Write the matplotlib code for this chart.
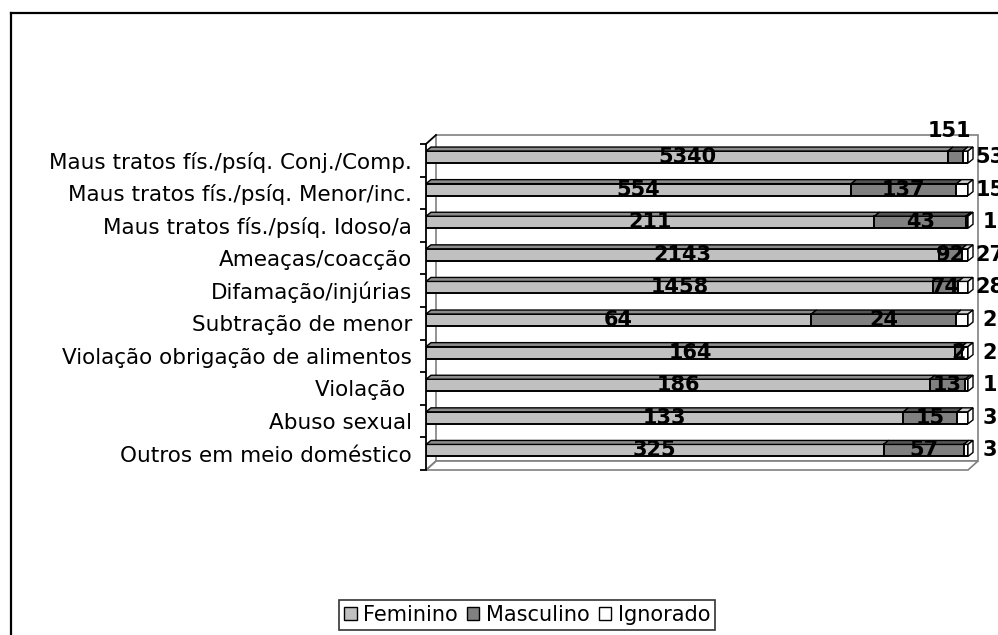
import matplotlib
matplotlib.use("Agg")
from matplotlib import pyplot as plt
from matplotlib.patches import Polygon, Patch
from matplotlib.lines import Line2D
import numpy as np

plt.rcParams['font.family'] = ['DejaVu Sans']

# dados
categorias = ["Maus tratos fís./psíq. Conj./Comp.", "Maus tratos fís./psíq. Menor/inc.",
              "Maus tratos fís./psíq. Idoso/a", "Ameaças/coacção", "Difamação/injúrias",
              "Subtração de menor", "Violação obrigação de alimentos", "Violação ",
              "Abuso sexual", "Outros em meio doméstico"]
feminino = [5340, 554, 211, 2143, 1458, 64, 164, 186, 133, 325]
masculino = [151, 137, 43, 92, 74, 24, 2, 13, 15, 57]
ignorado = [53, 15, 1, 27, 28, 2, 2, 1, 3, 3]
series = ["Feminino", "Masculino", "Ignorado"]

cores = ["#c0c0c0", "#808080", "#ffffff"]
cores_topo = ["#8c8c8c", "#555555", "#d0d0d0"]

W, H = 998, 635
fig = plt.figure(figsize=(W / 100, H / 100), dpi=100)
ax_l, ax_r, ax_t, ax_b = 426, 968, 144, 470
ax = fig.add_axes([ax_l / W, 1 - ax_b / H, (ax_r - ax_l) / W, (ax_b - ax_t) / H])

n = len(categorias)
ax.set_xlim(0, 1)
ax.set_ylim(n - 0.5, -0.5)
px_x = 1.0 / (ax_r - ax_l)
px_y = n / (ax_b - ax_t)

# paredes 3D
dx, dy = 10 * px_x, -9 * px_y
cinza = "#808080"
y0, y1 = -0.5, n - 0.5
ax.add_patch(Polygon([(dx, y0 + dy), (1 + dx, y0 + dy), (1 + dx, y1 + dy), (dx, y1 + dy)],
                     closed=True, facecolor="white", edgecolor=cinza, lw=1.2, clip_on=False, zorder=1))
ax.add_patch(Polygon([(0, y1), (1, y1), (1 + dx, y1 + dy), (dx, y1 + dy)],
                     closed=True, facecolor="white", edgecolor=cinza, lw=1.2, clip_on=False, zorder=1))
ax.plot([0, dx], [y0, y0 + dy], color="black", lw=1.3, clip_on=False, zorder=2)
ax.plot([0, dx], [y1, y1 + dy], color=cinza, lw=1.2, clip_on=False, zorder=2)

# barras 100% empilhadas
dados = np.array([feminino, masculino, ignorado], dtype=float)
totais = dados.sum(axis=0)
frac = dados / totais
pos = np.arange(n) - 0.1
alt = 12 * px_y
bx, by = 5 * px_x, -4 * px_y
esq = np.zeros(n)
for k in range(3):
    ax.barh(pos, frac[k], left=esq, height=alt, color=cores[k], edgecolor="black",
            lw=1.4, zorder=3)
    for i in range(n):
        l, w = esq[i], frac[k][i]
        topo = pos[i] - alt / 2
        ax.add_patch(Polygon([(l, topo), (l + w, topo), (l + w + bx, topo + by), (l + bx, topo + by)],
                             closed=True, facecolor=cores_topo[k], edgecolor="black", lw=1.0,
                             clip_on=False, zorder=3))
    esq = esq + frac[k]

for i in range(n):
    topo, base = pos[i] - alt / 2, pos[i] + alt / 2
    ax.add_patch(Polygon([(1, topo), (1, base), (1 + bx, base + by), (1 + bx, topo + by)],
                         closed=True, facecolor="white", edgecolor="black", lw=1.0,
                         clip_on=False, zorder=3))

# rótulos de dados
fs_dados = 15
for i in range(n):
    ax.text(frac[0][i] / 2, pos[i], str(feminino[i]), ha="center", va="center",
            fontsize=fs_dados, fontweight="bold", zorder=5)
    if i == 0:
        ax.text((950 - ax_l) * px_x, -0.5 + (131 - ax_t) * px_y, str(masculino[i]),
                ha="center", va="center", fontsize=fs_dados, fontweight="bold", clip_on=False, zorder=5)
    else:
        ax.text(frac[0][i] + frac[1][i] / 2, pos[i], str(masculino[i]), ha="center", va="center",
                fontsize=fs_dados, fontweight="bold", zorder=5)
    ax.text((990 - ax_l) * px_x, pos[i], str(ignorado[i]), ha="center", va="center",
            fontsize=fs_dados, fontweight="bold", clip_on=False, zorder=5)

# eixos
for s in ["top", "right", "bottom"]:
    ax.spines[s].set_visible(False)
ax.spines["left"].set_linewidth(1.3)
ax.set_xticks([])
ax.set_yticks(np.arange(n))
ax.set_yticklabels(categorias, fontsize=15.5)
ax.tick_params(axis="y", which="major", length=0, pad=10)
ax.set_yticks(np.arange(n + 1) - 0.5, minor=True)
ax.tick_params(axis="y", which="minor", length=4, width=1.3, color="black")
ax.set_facecolor("none")

# legenda
handles = [Patch(facecolor=c, edgecolor="black", lw=1) for c in cores]
leg = fig.legend(handles, series, loc="center", bbox_to_anchor=(527 / W, 1 - 615 / H), ncol=3,
                 fontsize=15, handlelength=0.6, handleheight=0.6, handletextpad=0.3,
                 columnspacing=0.45, fancybox=False, frameon=True, borderpad=0.25)
leg.get_frame().set_edgecolor("black")
leg.get_frame().set_linewidth(1.2)

# moldura do gráfico
fig.add_artist(Line2D([10.5 / W, 1], [1 - 12.5 / H, 1 - 12.5 / H], color="black", lw=1.6))
fig.add_artist(Line2D([10.5 / W, 10.5 / W], [0, 1 - 12.5 / H], color="black", lw=1.6))

plt.savefig("out.png", dpi=100)
plt.close()
